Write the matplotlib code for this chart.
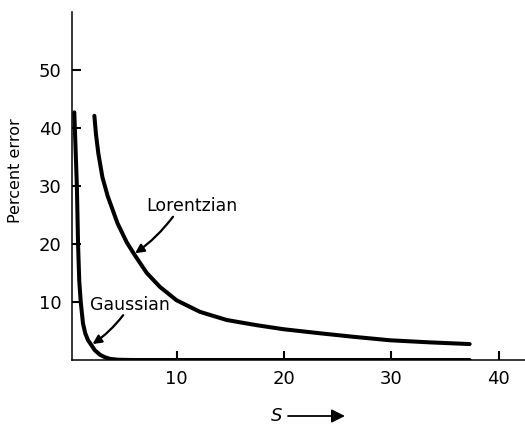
import matplotlib
matplotlib.use('Agg')
import matplotlib.pyplot as plt

# Gaussian curve (s, percent error)
gauss_s = [0.48, 0.72, 0.83, 0.94, 1.08, 1.29, 1.5, 1.76, 2.1, 2.38, 2.88, 3.3,
           3.8, 4.55, 6.0, 37.3]
gauss_err = [42.7, 30.0, 20.0, 13.7, 10.0, 6.3, 4.6, 3.4, 2.5, 1.7, 0.9, 0.5,
             0.2, 0.05, 0.0, 0.0]

# Lorentzian curve
lor_s = [2.35, 2.5, 2.72, 3.1, 3.6, 4.5, 5.36, 6.14, 7.23, 8.46, 10.0, 12.19,
         14.67, 17.47, 20.0, 23.4, 26.5, 29.9, 33.5, 37.3]
lor_err = [42.1, 38.9, 35.6, 31.5, 28.2, 23.6, 20.3, 18.0, 15.0, 12.6, 10.3, 8.3,
           6.9, 6.0, 5.3, 4.6, 4.0, 3.4, 3.05, 2.75]

x_ticks = [10, 20, 30, 40]
y_ticks = [10, 20, 30, 40, 50]


def main():
    fig = plt.figure(figsize=(5.25, 4.26), dpi=100)
    ax = fig.add_axes([0.1362, 0.1549, 0.8638, 0.8169])

    # Curves
    ax.plot(gauss_s, gauss_err, color='black', lw=2.9,
            solid_capstyle='round', solid_joinstyle='round', zorder=3)
    ax.plot(lor_s, lor_err, color='black', lw=2.9,
            solid_capstyle='round', solid_joinstyle='round', zorder=3)

    # Axes setup
    ax.set_xlim(0.22, 42.45)
    ax.set_ylim(0, 60)
    ax.set_xticks(x_ticks)
    ax.set_yticks(y_ticks)
    ax.tick_params(direction='in', length=6.5, width=1.5, pad=7,
                   labelsize=13, color='black')
    for side in ['top', 'right']:
        ax.spines[side].set_visible(False)
    for side in ['left', 'bottom']:
        ax.spines[side].set_linewidth(1.1)

    # Curve labels with arrows
    arrow = dict(arrowstyle='-|>', color='black', lw=1.6,
                 mutation_scale=13, shrinkA=0, shrinkB=0,
                 connectionstyle='arc3,rad=-0.08')
    ax.text(11.46, 26.5, 'Lorentzian', fontsize=12.5, ha='center', va='center')
    ax.annotate('', xy=(6.14, 18.4), xytext=(9.67, 24.7), arrowprops=arrow)
    ax.text(5.67, 9.45, 'Gaussian', fontsize=12.5, ha='center', va='center')
    ax.annotate('', xy=(2.18, 2.75), xytext=(5.03, 7.73), arrowprops=arrow)

    # Axis labels
    fig.text(0.029, 0.599, 'Percent error', rotation=90, fontsize=11.5,
             ha='center', va='center')
    fig.text(277 / 525, 1 - 416 / 426, 'S', fontstyle='italic', fontsize=13,
             ha='center', va='center')
    fig.add_artist(matplotlib.patches.FancyArrowPatch(
        (288 / 525, 1 - 416 / 426), (345 / 525, 1 - 416 / 426),
        transform=fig.transFigure, arrowstyle='-|>', mutation_scale=20,
        color='black', lw=1.3, shrinkA=0, shrinkB=0))

    fig.savefig('out.png', dpi=100)


if __name__ == '__main__':
    main()
